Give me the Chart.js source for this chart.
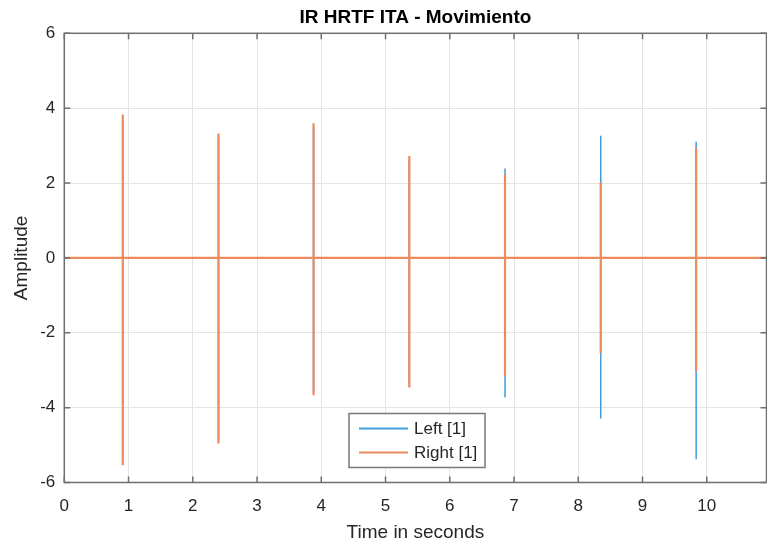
<!DOCTYPE html>
<html>
<head>
<meta charset="utf-8">
<title>IR HRTF ITA - Movimiento</title>
<script src="https://cdn.jsdelivr.net/npm/chart.js@4/dist/chart.umd.min.js"></script>
<style>
  html, body { margin: 0; padding: 0; background: #ffffff; }
  #wrap { width: 767px; height: 545px; }
</style>
</head>
<body>
<div id="wrap"><canvas id="ir" width="767" height="545"></canvas></div>
<script>
// Impulse positions (seconds) and the extreme amplitude reached at each one
const spikeTimes   = [0.91, 2.40, 3.88, 5.37, 6.86, 8.35, 9.835];
const leftPeaks    = [3.70, 3.20, 3.50, 2.60, 2.39, 3.26, 3.10];
const leftTroughs  = [-5.40, -4.85, -3.55, -3.35, -3.73, -4.29, -5.38];
const rightPeaks   = [3.83, 3.32, 3.60, 2.72, 2.23, 2.02, 2.95];
const rightTroughs = [-5.54, -4.96, -3.67, -3.46, -3.16, -2.55, -3.03];
const signalEnd    = 10.93;

const xTicks = [0, 1, 2, 3, 4, 5, 6, 7, 8, 9, 10];
const yTicks = [-6, -4, -2, 0, 2, 4, 6];

const channelNames  = ['Left [1]', 'Right [1]'];
const channelColors = ['#3f9ddd', '#ec8a60'];

// Build a zero-baseline trace with a vertical excursion at each impulse
function trace(peaks, troughs) {
  const pts = [{ x: 0, y: 0 }];
  spikeTimes.forEach((t, i) => {
    pts.push({ x: t, y: 0 }, { x: t, y: peaks[i] }, { x: t, y: troughs[i] }, { x: t, y: 0 });
  });
  pts.push({ x: signalEnd, y: 0 });
  return pts;
}

const FONT = '"Liberation Sans", Arial, Helvetica, sans-serif';
const TEXT = '#262626';

// Box around the axes, inward tick marks and the in-plot legend
const framePlugin = {
  id: 'frame',
  afterDatasetsDraw(chart) {
    const { ctx, chartArea: a, scales } = chart;
    const xs = scales.x, ys = scales.y;
    ctx.save();
    ctx.strokeStyle = '#6f6f6f';
    ctx.lineWidth = 1.5;
    ctx.beginPath();
    const tl = 6;
    xTicks.forEach(v => {
      const px = xs.getPixelForValue(v);
      ctx.moveTo(px, a.bottom); ctx.lineTo(px, a.bottom - tl);
      ctx.moveTo(px, a.top);    ctx.lineTo(px, a.top + tl);
    });
    yTicks.forEach(v => {
      const py = ys.getPixelForValue(v);
      ctx.moveTo(a.left, py);  ctx.lineTo(a.left + tl, py);
      ctx.moveTo(a.right, py); ctx.lineTo(a.right - tl, py);
    });
    ctx.stroke();
    ctx.strokeRect(a.left, a.top, a.right - a.left, a.bottom - a.top);

    // legend
    const lx = 349, ly = 413.5, lw = 136, lh = 54;
    ctx.fillStyle = '#ffffff';
    ctx.fillRect(lx, ly, lw, lh);
    ctx.strokeStyle = '#7a7a7a';
    ctx.lineWidth = 1.5;
    ctx.strokeRect(lx, ly, lw, lh);
    ctx.font = '17px ' + FONT;
    ctx.textBaseline = 'middle';
    ctx.textAlign = 'left';
    chart.data.datasets.forEach((ds, i) => {
      const ry = ly + 15 + i * 24;
      ctx.strokeStyle = ds.borderColor;
      ctx.lineWidth = 2;
      ctx.beginPath();
      ctx.moveTo(lx + 10, ry); ctx.lineTo(lx + 59, ry);
      ctx.stroke();
      ctx.fillStyle = TEXT;
      ctx.fillText(ds.label, lx + 65, ry + 1);
    });
    ctx.restore();
  }
};

new Chart(document.getElementById('ir'), {
  type: 'scatter',
  data: {
    datasets: [
      { label: channelNames[0], data: trace(leftPeaks, leftTroughs),
        borderColor: channelColors[0], backgroundColor: channelColors[0],
        showLine: true, pointRadius: 0, borderWidth: 1.5, order: 2 },
      { label: channelNames[1], data: trace(rightPeaks, rightTroughs),
        borderColor: channelColors[1], backgroundColor: channelColors[1],
        showLine: true, pointRadius: 0, borderWidth: 2.2, order: 1 }
    ]
  },
  options: {
    responsive: false,
    animation: false,
    events: [],
    layout: { padding: { left: 0, right: 0.5, top: 0, bottom: 0 } },
    plugins: {
      legend: { display: false },
      tooltip: { enabled: false },
      title: {
        display: true,
        fullSize: false,
        text: 'IR HRTF ITA - Movimiento',
        color: '#000000',
        font: { family: FONT, size: 19, weight: 'bold', lineHeight: 1.2 },
        padding: { top: 6.4, bottom: 4.1 }
      }
    },
    scales: {
      x: {
        type: 'linear',
        min: 0, max: signalEnd,
        afterFit(s) { s.height = 62.5; },
        afterBuildTicks(s) { s.ticks = xTicks.map(v => ({ value: v })); },
        ticks: { color: TEXT, font: { family: FONT, size: 17 }, padding: 14, maxRotation: 0, includeBounds: false },
        grid: { color: '#e4e4e4', lineWidth: 1, drawTicks: false },
        border: { display: false },
        title: { display: true, text: 'Time in seconds', color: TEXT,
                 font: { family: FONT, size: 19 }, padding: { top: 0, bottom: 0.6 } }
      },
      y: {
        type: 'linear',
        min: -6, max: 6,
        afterFit(s) { s.width = 64.3; },
        afterBuildTicks(s) { s.ticks = yTicks.map(v => ({ value: v })); },
        ticks: { color: TEXT, font: { family: FONT, size: 17 }, padding: 9 },
        grid: { color: '#e4e4e4', lineWidth: 1, drawTicks: false },
        border: { display: false },
        title: { display: true, text: 'Amplitude', color: TEXT,
                 font: { family: FONT, size: 19 }, padding: { top: 10.6, bottom: 0 } }
      }
    }
  },
  plugins: [framePlugin]
});
</script>
</body>
</html>
